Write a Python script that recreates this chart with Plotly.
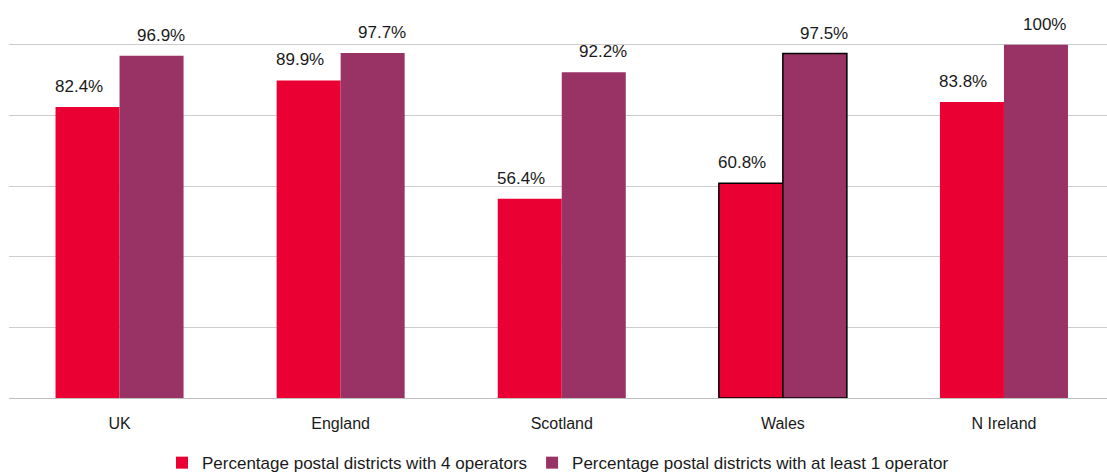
import plotly.graph_objects as go

regions = ["UK", "England", "Scotland", "Wales", "N Ireland"]
four_operators = [82.4, 89.9, 56.4, 60.8, 83.8]
at_least_one = [96.9, 97.7, 92.2, 97.5, 100.0]
series_names = [
    "Percentage postal districts with 4 operators",
    "Percentage postal districts with at least 1 operator",
]

RED = "#EB0033"
PLUM = "#993366"
FONT = "Liberation Sans, Arial, sans-serif"

# Wales is picked out with a black outline
outline = [1.5 if r == "Wales" else 0 for r in regions]

fig = go.Figure()
fig.add_trace(go.Bar(
    x=regions, y=four_operators, name=series_names[0],
    marker=dict(color=RED, line=dict(color="black", width=outline)),
))
fig.add_trace(go.Bar(
    x=regions, y=at_least_one, name=series_names[1],
    marker=dict(color=PLUM, line=dict(color="black", width=outline)),
))

# value labels above each bar, pushed slightly outward from the pair centre
for vals, shift in ((four_operators, -41), (at_least_one, 41)):
    for r, v in zip(regions, vals):
        fig.add_annotation(
            x=r, y=v, text=f"{v:g}%", showarrow=False,
            xshift=shift, yshift=9, yanchor="bottom",
            font=dict(family=FONT, size=17, color="#1a1a1a"),
        )

fig.update_layout(
    width=1107, height=474,
    margin=dict(l=9, r=0, t=43, b=76, autoexpand=False),
    paper_bgcolor="white", plot_bgcolor="white",
    barmode="group", bargap=0.421, bargroupgap=0,
    font=dict(family=FONT, size=16, color="#1a1a1a"),
    showlegend=True,
    legend=dict(
        orientation="h", x=0.5, xanchor="center",
        yref="container", y=0.023, yanchor="middle",
        font=dict(family=FONT, size=17, color="#1a1a1a"),
        itemwidth=30, tracegroupgap=0,
    ),
)
fig.update_xaxes(
    range=[-0.5, 4.466],
    showgrid=False, showline=False, ticks="", automargin=False,
    ticklabelstandoff=14,
    tickfont=dict(family=FONT, size=16, color="#1a1a1a"),
)
fig.update_yaxes(
    range=[0, 100.5], dtick=20, showticklabels=False, automargin=False,
    showgrid=True, gridcolor="#CCCCCC", gridwidth=1,
    zeroline=True, zerolinecolor="#BFBFBF", zerolinewidth=1,
)

fig.write_html("out.html")
